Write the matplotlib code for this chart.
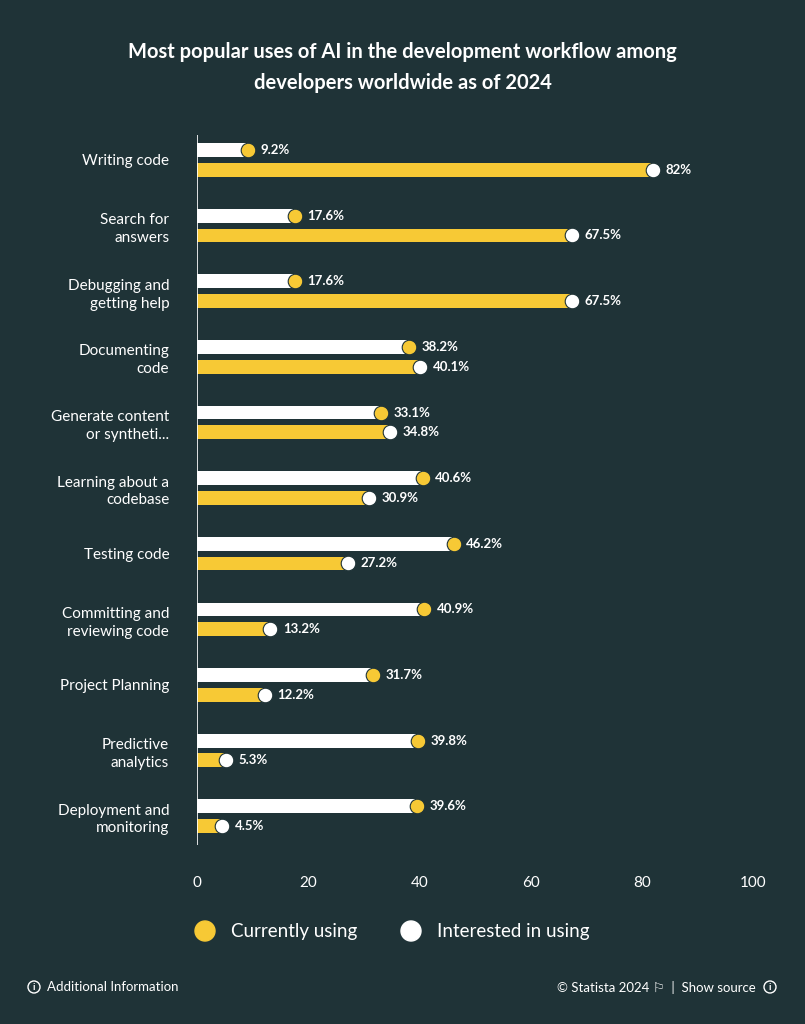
import matplotlib
matplotlib.use("Agg")
import matplotlib.pyplot as plt
from matplotlib.patches import Ellipse

plt.rcParams['font.family'] = ['Lato', 'DejaVu Sans']

categories = ["Writing code", "Search for\nanswers", "Debugging and\ngetting help", "Documenting\ncode",
              "Generate content\nor syntheti...", "Learning about a\ncodebase", "Testing code",
              "Committing and\nreviewing code", "Project Planning", "Predictive\nanalytics",
              "Deployment and\nmonitoring"]
interested = [9.2, 17.6, 17.6, 38.2, 33.1, 40.6, 46.2, 40.9, 31.7, 39.8, 39.6]
current = [82, 67.5, 67.5, 40.1, 34.8, 30.9, 27.2, 13.2, 12.2, 5.3, 4.5]
xticks = [0, 20, 40, 60, 80, 100]

BG = "#1f3337"
YEL = "#f7c935"
WHT = "#ffffff"

fig = plt.figure(figsize=(8.05, 10.24), dpi=100, facecolor=BG)
ax = fig.add_axes([197/805, 1-845/1024, (753-197)/805, 710/1024])
ax.set_facecolor(BG)
ax.set_xlim(0, 100)
ax.set_ylim(10.44, -0.38)

def fmt(v):
    return (f"{v:g}") + "%"

for i in range(len(categories)):
    yt, yb = i - 0.15, i + 0.15
    ax.barh(yt, interested[i], height=0.21, color=WHT, zorder=2)
    ax.barh(yb, current[i], height=0.21, color=YEL, zorder=2)
    ax.plot(interested[i], yt, 'o', ms=10.5, mfc=YEL, mec=BG, mew=0.8, zorder=3)
    ax.plot(current[i], yb, 'o', ms=10.5, mfc=WHT, mec=BG, mew=0.8, zorder=3)
    ax.annotate(fmt(interested[i]), (interested[i], yt), xytext=(9, 0), textcoords='offset points',
                va='center', ha='left', color=WHT, fontsize=9.5, fontweight='bold')
    ax.annotate(fmt(current[i]), (current[i], yb), xytext=(9, 0), textcoords='offset points',
                va='center', ha='left', color=WHT, fontsize=9.5, fontweight='bold')

ax.set_yticks(range(len(categories)))
ax.set_yticklabels(categories, color=WHT, fontsize=11, linespacing=1.35)
ax.set_xticks(xticks)
ax.set_xticklabels([str(t) for t in xticks], color=WHT, fontsize=11)
ax.tick_params(length=0, pad=22)
ax.tick_params(axis='y', pad=20)
for s in ax.spines.values():
    s.set_visible(False)
ax.axvline(0, color=WHT, lw=1.2, zorder=4)

fig.text(0.5, 1-52/1024, "Most popular uses of AI in the development workflow among",
         ha='center', va='center', color=WHT, fontsize=14.5, fontweight='bold')
fig.text(0.5, 1-83/1024, "developers worldwide as of 2024",
         ha='center', va='center', color=WHT, fontsize=14.5, fontweight='bold')

ly = 1-931/1024
fig.patches.append(Ellipse((205/805, ly), 20/805, 20/1024, transform=fig.transFigure, color=YEL))
fig.text(231/805, ly, "Currently using", color=WHT, fontsize=13.5, va='center')
fig.patches.append(Ellipse((411/805, ly), 20/805, 20/1024, transform=fig.transFigure, color=WHT))
fig.text(437/805, ly, "Interested in using", color=WHT, fontsize=13.5, va='center')

fy = 1-987/1024
def info_icon(x):
    fig.patches.append(Ellipse((x/805, fy), 12/805, 12/1024, transform=fig.transFigure,
                               fill=False, ec=WHT, lw=1))
    fig.text(x/805, fy, "i", color=WHT, fontsize=7, ha='center', va='center', fontweight='bold')

info_icon(34)
fig.text(47/805, fy, "Additional Information", color=WHT, fontsize=9.5, va='center')
info_icon(770)
fig.text(756/805, fy, "© Statista 2024 ⚐  |  Show source", color=WHT, fontsize=9.5, va='center',
         ha='right')

fig.savefig("out.png", facecolor=BG)
